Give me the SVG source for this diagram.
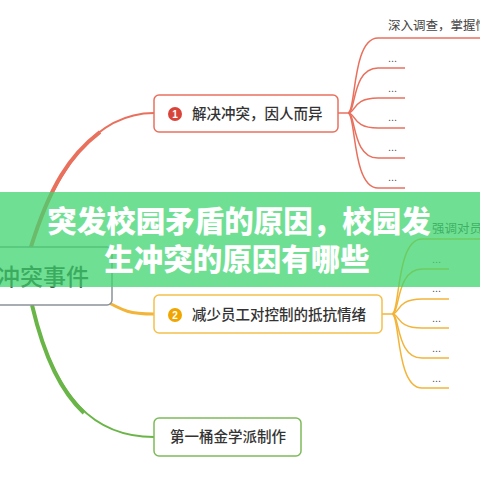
<svg xmlns="http://www.w3.org/2000/svg" width="480" height="480" viewBox="0 0 480 480">
<style>
.t{font-family:"Noto Sans CJK SC","Noto Sans",sans-serif;fill:#333;font-weight:500;}
.lab{font-family:"Noto Sans CJK SC","Noto Sans",sans-serif;fill:#444;font-size:12.5px;}
.dots{font-family:"Liberation Sans",sans-serif;fill:#555;font-size:11px;}
.red{fill:none;stroke:#e9705d;stroke-width:1.5;}
.org{fill:none;stroke:#f2b53a;stroke-width:1.5;}
.box{fill:#fff;stroke-width:1.5;}
.title{font-family:"Noto Sans CJK SC",sans-serif;font-weight:900;font-size:29.5px;fill:#fff;}
</style>
<rect width="480" height="480" fill="#fff"/>
<g id="connectors">
  <path d="M30 250 C55 170 95 113 154 113" fill="none" stroke="#e9705d" stroke-width="2"/>
  <path d="M30 250 C50 185 70 155 100 132" fill="none" stroke="#e9705d" stroke-width="4"/>
  <path d="M100 298 C125 312 130 314 154 314" fill="none" stroke="#f2b53a" stroke-width="3"/>
  <path d="M32 305 C55 400 95 437 154 437" fill="none" stroke="#6ab547" stroke-width="2"/>
  <path d="M32 305 C45 360 62 392 84 413" fill="none" stroke="#6ab547" stroke-width="4"/>
  <g class="red">
    <path d="M338 113 H348 C356 113 352 38 378 38 H480"/>
    <path d="M348 113 C356 113 352 68 378 68 H405"/>
    <path d="M348 113 C356 113 352 98 378 98 H405"/>
    <path d="M348 113 C356 113 352 128 378 128 H405"/>
    <path d="M348 113 C356 113 352 158 378 158 H405"/>
    <path d="M348 113 C356 113 352 188 378 188 H405"/>
  </g>
  <g class="org">
    <path d="M382 314 H392 C400 314 396 239 422 239 H480"/>
    <path d="M392 314 C400 314 396 269 422 269 H449"/>
    <path d="M392 314 C400 314 396 299 422 299 H449"/>
    <path d="M392 314 C400 314 396 328 422 328 H449"/>
    <path d="M392 314 C400 314 396 358 422 358 H449"/>
    <path d="M392 314 C400 314 396 388 422 388 H449"/>
  </g>
</g>
<g id="root">
  <rect x="-10" y="247" width="122" height="58" rx="5" class="box" stroke="#8c929c"/>
  <text x="-3" y="285" class="t" font-size="23">冲突事件</text>
</g>
<g id="node1">
  <rect x="154" y="95" width="184" height="37" rx="5" class="box" stroke="#e9705d"/>
  <circle cx="175" cy="114" r="7" fill="#d9443a"/>
  <text x="175" y="118" font-family="Liberation Sans,sans-serif" font-size="10" font-weight="bold" fill="#fff" text-anchor="middle">1</text>
  <text x="192" y="119" class="t" font-size="14.5">解决冲突，因人而异</text>
</g>
<g id="node1-children">
  <text x="388" y="30" class="lab">深入调查，掌握情况</text>
  <text x="388" y="62" class="dots">...</text>
  <text x="388" y="92" class="dots">...</text>
  <text x="388" y="121" class="dots">...</text>
  <text x="388" y="151" class="dots">...</text>
  <text x="388" y="181" class="dots">...</text>
</g>
<g id="node2">
  <rect x="154" y="295" width="228" height="38" rx="5" class="box" stroke="#f5c04a"/>
  <circle cx="175" cy="315" r="7" fill="#f0a500"/>
  <text x="175" y="319" font-family="Liberation Sans,sans-serif" font-size="10" font-weight="bold" fill="#fff" text-anchor="middle">2</text>
  <text x="192" y="320" class="t" font-size="14.5">减少员工对控制的抵抗情绪</text>
</g>
<g id="node2-children">
  <text x="432" y="233" class="lab">强调对员工的</text>
  <text x="432" y="263" class="dots">...</text>
  <text x="432" y="292" class="dots">...</text>
  <text x="432" y="322" class="dots">...</text>
  <text x="432" y="352" class="dots">...</text>
  <text x="432" y="382" class="dots">...</text>
</g>
<g id="node3">
  <rect x="154" y="418" width="147" height="38" rx="5" class="box" stroke="#7dbb5a"/>
  <text x="170" y="442" class="t" font-size="14.5">第一桶金学派制作</text>
</g>
<g id="banner">
  <rect x="0" y="192" width="480" height="95" fill="#3fd46f" fill-opacity="0.75"/>
  <text x="239" y="232" text-anchor="middle" class="title">突发校园矛盾的原因，校园发</text>
  <text x="237" y="270" text-anchor="middle" class="title">生冲突的原因有哪些</text>
</g>
</svg>
